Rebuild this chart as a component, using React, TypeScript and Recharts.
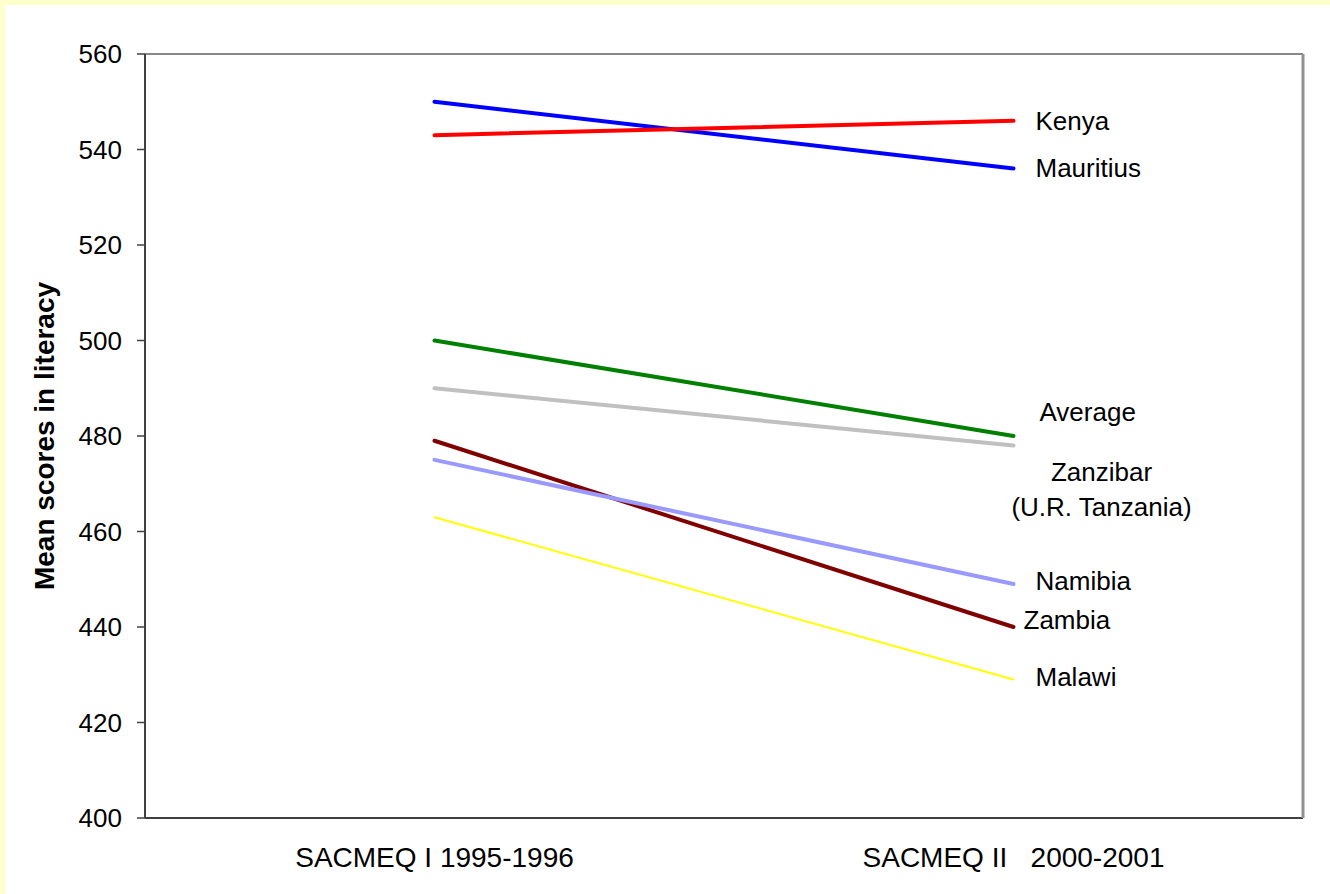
import { LineChart, Line, XAxis, YAxis, CartesianGrid, ReferenceLine } from "recharts";

// Mean literacy scores, SACMEQ I vs SACMEQ II
const periods = ["SACMEQ I 1995-1996", "SACMEQ II\u00A0\u00A0\u00A02000-2001"];
const kenya = [543, 546];
const mauritius = [550, 536];
const average = [500, 480];
const zanzibar = [490, 478];
const zambia = [479, 440];
const namibia = [475, 449];
const malawi = [463, 429];
const yTicks = [400, 420, 440, 460, 480, 500, 520, 540, 560];

const data = periods.map((period, i) => ({
  period,
  kenya: kenya[i],
  mauritius: mauritius[i],
  average: average[i],
  zanzibar: zanzibar[i],
  zambia: zambia[i],
  namibia: namibia[i],
  malawi: malawi[i],
}));

const FONT = "'Liberation Sans', Arial, sans-serif";

type SeriesCfg = {
  key: string;
  lines: string[];
  color: string;
  width: number;
  dx: number;
  dy: number;
  anchor?: "start" | "middle";
};

const series: SeriesCfg[] = [
  { key: "zanzibar", lines: ["Zanzibar", "(U.R. Tanzania)"], color: "#C0C0C0", width: 4, dx: 88, dy: 26, anchor: "middle" },
  { key: "average", lines: ["Average"], color: "#008000", width: 4, dx: 26, dy: -24 },
  { key: "malawi", lines: ["Malawi"], color: "#FFFF00", width: 2, dx: 22, dy: -3 },
  { key: "zambia", lines: ["Zambia"], color: "#800000", width: 4, dx: 10, dy: -7 },
  { key: "namibia", lines: ["Namibia"], color: "#9999FF", width: 4, dx: 22, dy: -3 },
  { key: "mauritius", lines: ["Mauritius"], color: "#0000FF", width: 4, dx: 22, dy: -1 },
  { key: "kenya", lines: ["Kenya"], color: "#FF0000", width: 4, dx: 22, dy: 0 },
];

// country name beside the last point of each line
const endLabel = (cfg: SeriesCfg) => (props: any) => {
  const { x, y, index } = props;
  if (index !== data.length - 1) return null;
  return (
    <g key={cfg.key + "-label"}>
      {cfg.lines.map((t, i) => (
        <text
          key={i}
          x={x + cfg.dx}
          y={y + cfg.dy + i * 35}
          textAnchor={cfg.anchor ?? "start"}
          dominantBaseline="central"
          fontFamily={FONT}
          fontSize={26}
          fill="#000"
        >
          {t}
        </text>
      ))}
    </g>
  );
};

export default function App() {
  return (
    <div style={{ position: "relative", width: 1330, height: 894, background: "#FFFFCC" }}>
      <style>{`body { margin: 0; }`}</style>
      <div style={{ position: "absolute", left: 5, top: 5, width: 1325, height: 889, background: "#fff" }}>
        <LineChart
          width={1325}
          height={889}
          data={data}
          margin={{ top: 49, right: 26, bottom: 0, left: 0 }}
        >
          <CartesianGrid vertical={false} stroke="#D8D8F2" strokeWidth={1.5} />
          <XAxis
            dataKey="period"
            xAxisId="bottom"
            scale="band"
            height={76}
            tickLine={false}
            tickSize={0}
            tickMargin={29}
            axisLine={{ stroke: "#404040", strokeWidth: 2 }}
            tick={{ fill: "#000", fontSize: 28, fontFamily: FONT }}
          />
          <YAxis
            yAxisId="left"
            domain={[400, 560]}
            ticks={yTicks}
            width={140}
            tickSize={8}
            tickMargin={15}
            axisLine={{ stroke: "#404040", strokeWidth: 2 }}
            tickLine={{ stroke: "#404040", strokeWidth: 1.5 }}
            tick={{ fill: "#000", fontSize: 26, fontFamily: FONT }}
            label={{
              value: "Mean scores in literacy",
              angle: -90,
              position: "insideLeft",
              offset: 39,
              style: { textAnchor: "middle", fontSize: 28, fontWeight: "bold", fontFamily: FONT, fill: "#000" },
            }}
          />
          <YAxis
            yAxisId="right"
            orientation="right"
            domain={[400, 560]}
            width={1}
            tick={false}
            tickLine={false}
            axisLine={{ stroke: "#909090", strokeWidth: 3 }}
          />
          {/* top frame edge of the plot area */}
          <ReferenceLine xAxisId="bottom" yAxisId="left" y={560} stroke="#888" strokeWidth={2} />
          {series.map((s) => (
            <Line
              key={s.key}
              xAxisId="bottom"
              yAxisId="left"
              type="linear"
              dataKey={s.key}
              stroke={s.color}
              strokeWidth={s.width}
              strokeLinecap="round"
              dot={false}
              activeDot={false}
              isAnimationActive={false}
              label={endLabel(s)}
            />
          ))}
        </LineChart>
      </div>
    </div>
  );
}
